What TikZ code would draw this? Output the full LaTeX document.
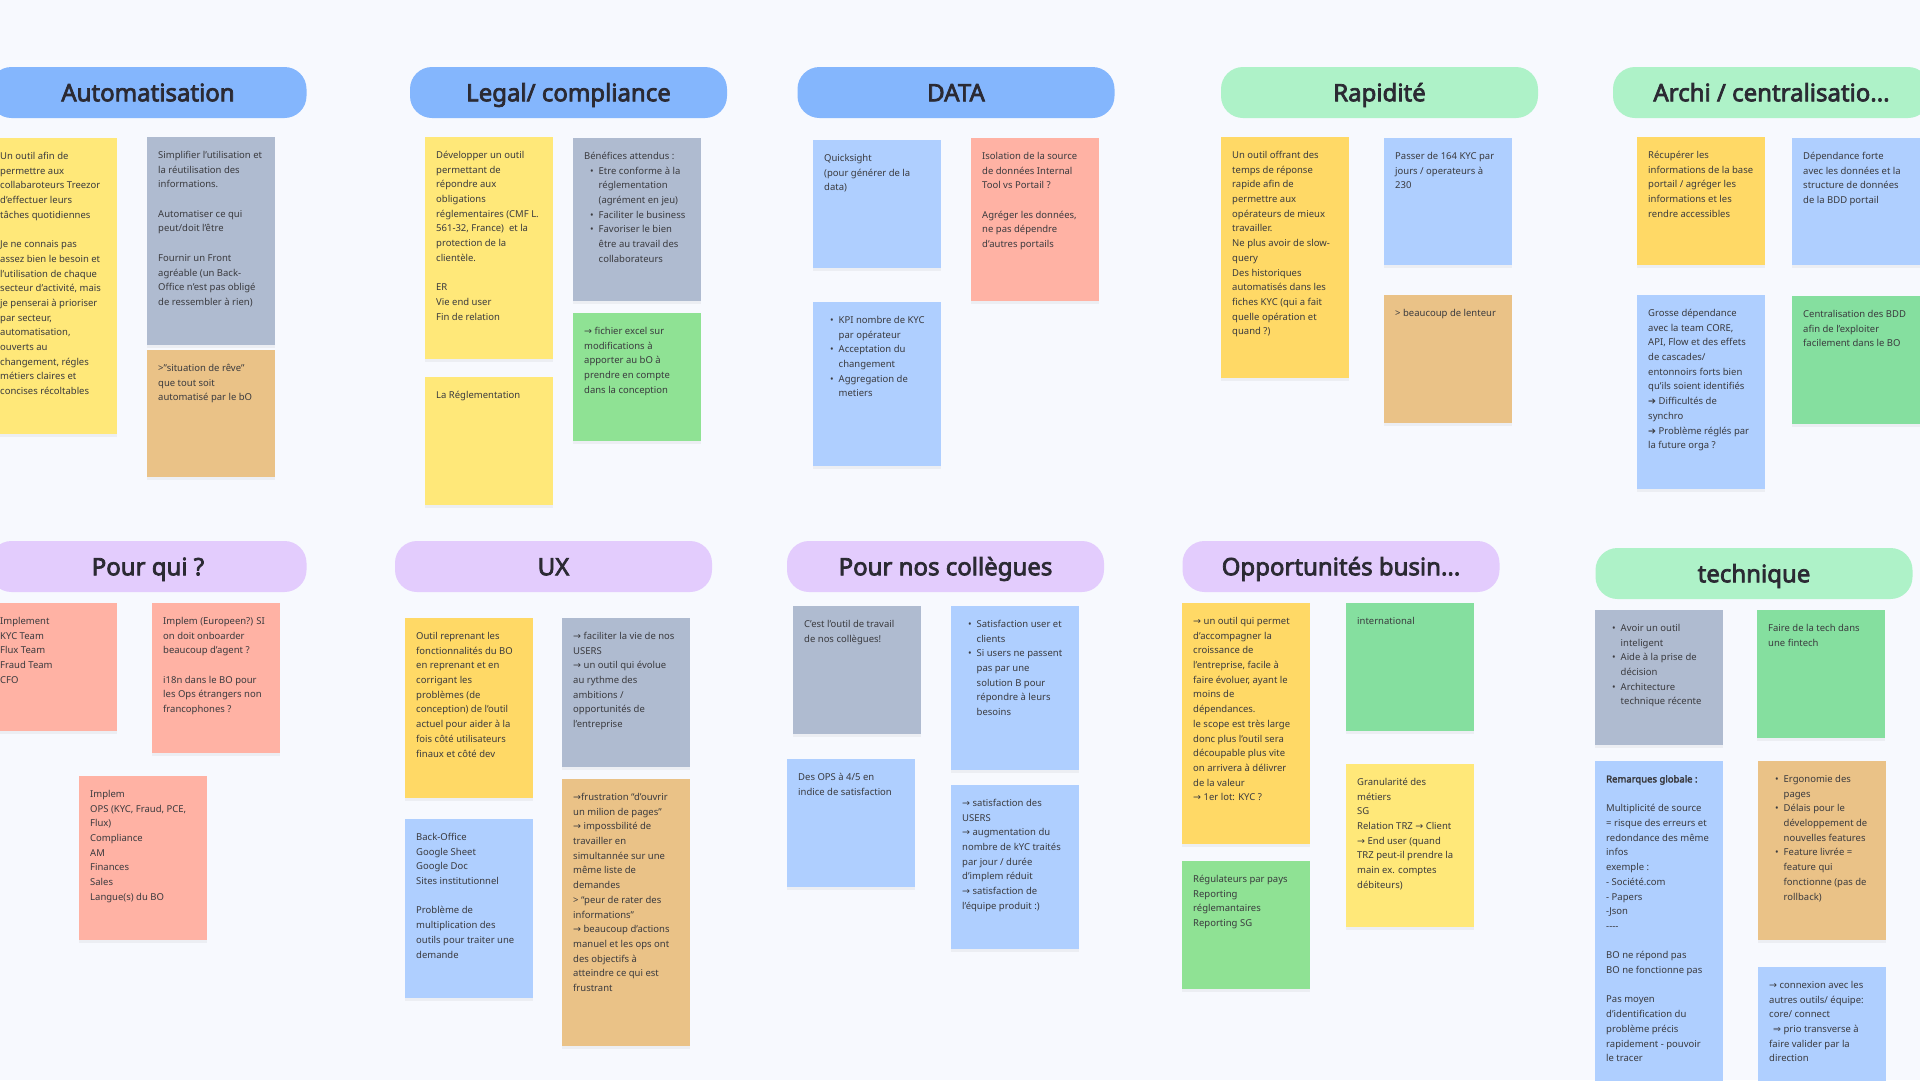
\documentclass[tikz,border=0pt]{standalone}
\usepackage{fontspec}
\setmainfont{Noto Sans}[AutoFakeBold=3]
\newfontfamily\arrowfont{DejaVu Sans}
\usetikzlibrary{shadows}

\definecolor{boardbg}{HTML}{F7F9FE}
\definecolor{headtext}{HTML}{2B2A33}
\definecolor{notetext}{HTML}{3A3A3E}
\definecolor{pillblue}{HTML}{84B6FD}
\definecolor{pillgreen}{HTML}{AEF2C8}
\definecolor{pillpurple}{HTML}{E3CCFD}
\definecolor{yellow}{HTML}{FFE879}
\definecolor{gold}{HTML}{FFD966}
\definecolor{slate}{HTML}{AFBBD0}
\definecolor{tan}{HTML}{EAC287}
\definecolor{sky}{HTML}{AFCFFF}
\definecolor{salmon}{HTML}{FFB2A4}
\definecolor{leaf}{HTML}{8FE294}
\definecolor{mint}{HTML}{85DF9F}

\tikzset{
  pill/.style={minimum width=317pt, minimum height=51pt, inner sep=0pt,
               rounded corners=22pt, text=headtext,
               text height=17.5pt, text depth=0pt,
               font=\fontsize{24}{28}\selectfont\bfseries},
  postit/.style={minimum width=128pt, inner sep=0pt, anchor=north west,
                 drop shadow={shadow xshift=0pt, shadow yshift=-3pt,
                              opacity=0.045, fill=black}},
  postittext/.style={anchor=north west, inner sep=0pt, align=left,
                     text=notetext, font=\fontsize{9.5}{14.7}\selectfont},
}
% one sticky note: name, x, y, height, colour, text
\newcommand{\postit}[6]{%
  \node [postit, fill=#5, minimum height=#4pt] (#1) at (#2,#3) {};
  \node [postittext] (#1txt) at ([shift={(11pt,-14pt)}]#1.north west) {#6};
}
\newcommand{\rarr}{{\arrowfont →}}
\newcommand{\Rarr}{{\arrowfont ⇒}}
\newcommand{\harr}{{\arrowfont ➔}}
\newcommand{\bitem}{\hspace*{6pt}\makebox[8.5pt][l]{•}}
\newcommand{\bcont}{\hspace*{14.5pt}}
\newcommand{\gap}{\\[14.7pt]}

\begin{document}
\begin{tikzpicture}[x=1pt, y=-1pt]
  \fill [boardbg] (0,0) rectangle (1920,1080);
  \clip (0,0) rectangle (1920,1080);

  % top row headers
  \node [pill, fill=pillblue] (auto) at (148,92.5) {Automatisation};
  \node [pill, fill=pillblue] (legal) at (568.5,92.5) {Legal/ compliance};
  \node [pill, fill=pillblue] (data) at (956,92.5) {DATA};
  \node [pill, fill=pillgreen] (rapid) at (1379.5,92.5) {Rapidité};
  \node [pill, fill=pillgreen] (archi) at (1771.5,92.5) {Archi / centralisatio...};

  % bottom row headers
  \node [pill, fill=pillpurple] (pourqui) at (148,566.5) {Pour qui ?};
  \node [pill, fill=pillpurple] (ux) at (553.5,566.5) {UX};
  \node [pill, fill=pillpurple] (collegues) at (945.5,566.5) {Pour nos collègues};
  \node [pill, fill=pillpurple] (opport) at (1341,566.5) {Opportunités busin...};
  \node [pill, fill=pillgreen] (tech) at (1754,573.5) {technique};

  % Automatisation
  \postit{auto1}{-11}{138}{296}{yellow}{Un outil afin de\\permettre aux\\collabaroteurs Treezor\\d’effectuer leurs\\tâches quotidiennes\gap
    Je ne connais pas\\assez bien le besoin et\\l’utilisation de chaque\\secteur d’activité, mais\\je penserai à prioriser\\par secteur,\\automatisation,\\ouverts au\\changement, régles\\métiers claires et\\concises récoltables}
  \postit{auto2}{147}{137}{208}{slate}{Simplifier l’utilisation et\\la réutilisation des\\informations.\gap
    Automatiser ce qui\\peut/doit l’être\gap
    Fournir un Front\\agréable (un Back-\\Office n’est pas obligé\\de ressembler à rien)}
  \postit{auto3}{147}{350}{127}{tan}{>"situation de rêve"\\que tout soit\\automatisé par le bO}

  % Legal/ compliance
  \postit{legal1}{425}{137}{222}{yellow}{Développer un outil\\permettant de\\répondre aux\\obligations\\réglementaires (CMF L.\\561-32, France)~ et la\\protection de la\\clientèle.\gap
    ER\\Vie end user\\Fin de relation}
  \postit{legal2}{425}{377}{128}{yellow}{La Réglementation}
  \postit{legal3}{573}{138}{163}{slate}{Bénéfices attendus :\\\bitem Etre conforme à la\\\bcont réglementation\\\bcont (agrément en jeu)\\\bitem Faciliter le business\\\bitem Favoriser le bien\\\bcont être au travail des\\\bcont collaborateurs}
  \postit{legal4}{573}{313}{128}{leaf}{\rarr\ fichier excel sur\\modifications à\\apporter au bO à\\prendre en compte\\dans la conception}

  % DATA
  \postit{data1}{813}{140}{128}{sky}{Quicksight\\(pour générer de la\\data)}
  \postit{data2}{813}{302}{164}{sky}{\bitem KPI nombre de KYC\\\bcont par opérateur\\\bitem Acceptation du\\\bcont changement\\\bitem Aggregation de\\\bcont metiers}
  \postit{data3}{971}{138}{163}{salmon}{Isolation de la source\\de données Internal\\Tool vs Portail ?\gap
    Agréger les données,\\ne pas dépendre\\d'autres portails}

  % Rapidité
  \postit{rapid1}{1221}{137}{241}{gold}{Un outil offrant des\\temps de réponse\\rapide afin de\\permettre aux\\opérateurs de mieux\\travailler.\\Ne plus avoir de slow-\\query\\Des historiques\\automatisés dans les\\fiches KYC (qui a fait\\quelle opération et\\quand ?)}
  \postit{rapid2}{1384}{138}{127}{sky}{Passer de 164 KYC par\\jours / operateurs à\\230}
  \postit{rapid3}{1384}{295}{128}{tan}{> beaucoup de lenteur}

  % Archi / centralisation
  \postit{archi1}{1637}{137}{128}{gold}{Récupérer les\\informations de la base\\portail / agréger les\\informations et les\\rendre accessibles}
  \postit{archi2}{1792}{138}{127}{sky}{Dépendance forte\\avec les données et la\\structure de données\\de la BDD portail}
  \postit{archi3}{1637}{295}{194}{sky}{Grosse dépendance\\avec la team CORE,\\API, Flow et des effets\\de cascades/\\entonnoirs forts bien\\qu'ils soient identifiés\\\harr\ Difficultés de\\synchro\\\harr\ Problème réglés par\\la future orga ?}
  \postit{archi4}{1792}{296}{128}{mint}{Centralisation des BDD\\afin de l’exploiter\\facilement dans le BO}

  % Pour qui ?
  \postit{pourqui1}{-11}{603}{128}{salmon}{Implement\\KYC Team\\Flux Team\\Fraud Team\\CFO}
  \postit{pourqui2}{152}{603}{150}{salmon}{Implem (Europeen?) SI\\on doit onboarder\\beaucoup d’agent ?\gap
    i18n dans le BO pour\\les Ops étrangers non\\francophones ?}
  \postit{pourqui3}{79}{776}{164}{salmon}{Implem\\OPS (KYC, Fraud, PCE,\\Flux)\\Compliance\\AM\\Finances\\Sales\\Langue(s) du BO}

  % UX
  \postit{ux1}{405}{618}{180}{gold}{Outil reprenant les\\fonctionnalités du BO\\en reprenant et en\\corrigant les\\problèmes (de\\conception) de l’outil\\actuel pour aider à la\\fois côté utilisateurs\\finaux et côté dev}
  \postit{ux2}{405}{819}{179}{sky}{Back-Office\\Google Sheet\\Google Doc\\Sites institutionnel\gap
    Problème de\\multiplication des\\outils pour traiter une\\demande}
  \postit{ux3}{562}{618}{149}{slate}{\rarr\ faciliter la vie de nos\\USERS\\\rarr\ un outil qui évolue\\au rythme des\\ambitions /\\opportunités de\\l’entreprise}
  \postit{ux4}{562}{779}{267}{tan}{\rarr frustration “d’ouvrir\\un milion de pages”\\\rarr\ impossbilité de\\travailler en\\simultannée sur une\\même liste de\\demandes\\> “peur de rater des\\informations”\\\rarr\ beaucoup d’actions\\manuel et les ops ont\\des objectifs à\\atteindre ce qui est\\frustrant}

  % Pour nos collègues
  \postit{coll1}{793}{606}{128}{slate}{C’est l’outil de travail\\de nos collègues!}
  \postit{coll2}{787}{759}{128}{sky}{Des OPS à 4/5 en\\indice de satisfaction}
  \postit{coll3}{951}{606}{164}{sky}{\bitem Satisfaction user et\\\bcont clients\\\bitem Si users ne passent\\\bcont pas par une\\\bcont solution B pour\\\bcont répondre à leurs\\\bcont besoins}
  \postit{coll4}{951}{785}{164}{sky}{\rarr\ satisfaction des\\USERS\\\rarr\ augmentation du\\nombre de kYC traités\\par jour / durée\\d’implem réduit\\\rarr\ satisfaction de\\l’équipe produit :)}

  % Opportunités business
  \postit{opp1}{1182}{603}{241}{gold}{\rarr\ un outil qui permet\\d’accompagner la\\croissance de\\l’entreprise, facile à\\faire évoluer, ayant le\\moins de\\dépendances.\\le scope est très large\\donc plus l’outil sera\\découpable plus vite\\on arrivera à délivrer\\de la valeur\\\rarr\ 1er lot: KYC ?}
  \postit{opp2}{1182}{861}{128}{leaf}{Régulateurs par pays\\Reporting\\réglemantaires\\Reporting SG}
  \postit{opp3}{1346}{603}{128}{mint}{international}
  \postit{opp4}{1346}{764}{163}{yellow}{Granularité des\\métiers\\SG\\Relation TRZ \rarr\ Client\\\rarr\ End user (quand\\TRZ peut-il prendre la\\main ex. comptes\\débiteurs)}

  % technique
  \postit{tech1}{1595}{610}{135}{slate}{\bitem Avoir un outil\\\bcont inteligent\\\bitem Aide à la prise de\\\bcont décision\\\bitem Architecture\\\bcont technique récente}
  \postit{tech2}{1757}{610}{128}{mint}{Faire de la tech dans\\une fintech}
  \postit{tech3}{1595}{761}{340}{sky}{\textbf{Remarques globale :}\gap
    Multiplicité de source\\= risque des erreurs et\\redondance des même\\infos\\exemple :\\- Société.com\\- Papers\\-Json\\-{}-{}-{}-\gap
    BO ne répond pas\\BO ne fonctionne pas\gap
    Pas moyen\\d’identification du\\problème précis\\rapidement - pouvoir\\le tracer}
  \postit{tech4}{1758}{761}{179}{tan}{\bitem Ergonomie des\\\bcont pages\\\bitem Délais pour le\\\bcont développement de\\\bcont nouvelles features\\\bitem Feature livrée =\\\bcont feature qui\\\bcont fonctionne (pas de\\\bcont rollback)}
  \postit{tech5}{1758}{967}{140}{sky}{\rarr\ connexion avec les\\autres outils/ équipe:\\core/ connect\\\hspace*{4pt}\Rarr\ prio transverse à\\faire valider par la\\direction}
\end{tikzpicture}
\end{document}
